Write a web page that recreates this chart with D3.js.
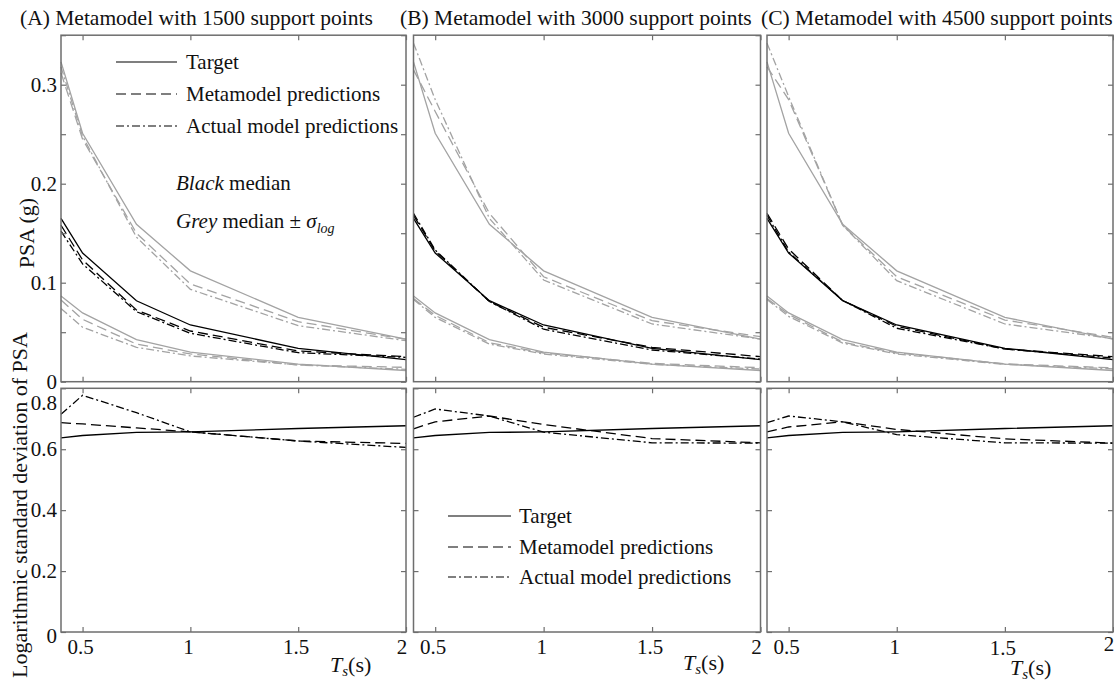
<!DOCTYPE html>
<html lang="en">
<head>
<meta charset="UTF-8">
<title>Metamodel predictions</title>
<script src="https://cdn.jsdelivr.net/npm/d3@7"></script>
<style>
  body { margin: 0; background: #fff; }
  text { font-family: "Liberation Serif", "Times New Roman", serif; fill: #111; }
  .frame { fill: none; stroke: #6e6e6e; stroke-width: 1.5; }
  .tick line { stroke: #6e6e6e; stroke-width: 1.2; }
  .domain { display: none; }
</style>
</head>
<body>
<script>
// periods (s)
var periods = [0.4, 0.5, 0.75, 1.0, 1.5, 2.0];

var titles = ["(A) Metamodel with 1500 support points",
              "(B) Metamodel with 3000 support points",
              "(C) Metamodel with 4500 support points"];

// target (same in every panel)
var targetMedian = [0.165, 0.130, 0.0818, 0.0573, 0.0337, 0.0222];
var targetUpper  = [0.323, 0.251, 0.159, 0.112, 0.065, 0.043];
var targetLower  = [0.0866, 0.0695, 0.0425, 0.0298, 0.0178, 0.0113];
var targetSigma  = [0.637, 0.645, 0.655, 0.657, 0.668, 0.677];

// (A) 1500 support points
var metaMedianA = [0.158, 0.123, 0.0724, 0.0512, 0.031, 0.0253];
var metaUpperA  = [0.312, 0.245, 0.150, 0.0987, 0.0606, 0.0428];
var metaLowerA  = [0.0825, 0.063, 0.038, 0.028, 0.0169, 0.0145];
var metaSigmaA  = [0.687, 0.683, 0.670, 0.657, 0.627, 0.619];
var actMedianA  = [0.152, 0.119, 0.0707, 0.0489, 0.0293, 0.0246];
var actUpperA   = [0.318, 0.248, 0.146, 0.0933, 0.0566, 0.0414];
var actLowerA   = [0.074, 0.055, 0.0347, 0.026, 0.0169, 0.0125];
var actSigmaA   = [0.715, 0.777, 0.720, 0.657, 0.627, 0.606];

// (B) 3000 support points
var metaMedianB = [0.168, 0.132, 0.081, 0.055, 0.0347, 0.0253];
var metaUpperB  = [0.315, 0.273, 0.170, 0.106, 0.0616, 0.0455];
var metaLowerB  = [0.084, 0.067, 0.0394, 0.029, 0.0185, 0.0141];
var metaSigmaB  = [0.667, 0.690, 0.709, 0.681, 0.635, 0.621];
var actMedianB  = [0.170, 0.133, 0.081, 0.053, 0.032, 0.0229];
var actUpperB   = [0.342, 0.285, 0.165, 0.1027, 0.0583, 0.0431];
var actLowerB   = [0.083, 0.065, 0.038, 0.028, 0.0175, 0.0128];
var actSigmaB   = [0.705, 0.732, 0.709, 0.656, 0.621, 0.620];

// (C) 4500 support points
var metaMedianC = [0.170, 0.134, 0.082, 0.056, 0.033, 0.0253];
var metaUpperC  = [0.318, 0.285, 0.158, 0.106, 0.0623, 0.0448];
var metaLowerC  = [0.084, 0.068, 0.040, 0.029, 0.018, 0.014];
var metaSigmaC  = [0.657, 0.673, 0.690, 0.665, 0.634, 0.620];
var actMedianC  = [0.168, 0.131, 0.082, 0.054, 0.033, 0.024];
var actUpperC   = [0.342, 0.288, 0.158, 0.102, 0.0583, 0.0435];
var actLowerC   = [0.083, 0.066, 0.039, 0.028, 0.0175, 0.013];
var actSigmaC   = [0.687, 0.709, 0.690, 0.648, 0.621, 0.620];

var xTicks = [0.5, 1, 1.5, 2];
var psaTicks = [0, 0.05, 0.1, 0.15, 0.2, 0.25, 0.3, 0.35];
var psaLabels = [0, 0.1, 0.2, 0.3];
var sigTicks = [0, 0.2, 0.4, 0.6, 0.8];

var legendNames = ["Target", "Metamodel predictions", "Actual model predictions"];

var panels = [
  { meta: [metaMedianA, metaUpperA, metaLowerA, metaSigmaA], act: [actMedianA, actUpperA, actLowerA, actSigmaA] },
  { meta: [metaMedianB, metaUpperB, metaLowerB, metaSigmaB], act: [actMedianB, actUpperB, actLowerB, actSigmaB] },
  { meta: [metaMedianC, metaUpperC, metaLowerC, metaSigmaC], act: [actMedianC, actUpperC, actLowerC, actSigmaC] }
];

var W = 1114, H = 681;
var xPos = [[61, 406], [413.5, 760.5], [767, 1113]];
var topY = [35.2, 381.7], botY = [388.3, 632];
var dashes = ["none", "10,5", "8,3,2,3"];
var grey = "#a3a3a3";

var svg = d3.select("body").append("svg").attr("width", W).attr("height", H);

var yTop = d3.scaleLinear().domain([0, 0.35]).range([topY[1], topY[0]]);
var yBot = d3.scaleLinear().domain([0, 0.8]).range([botY[1], botY[0]]);

var titleX = [20, 400, 761];

panels.forEach(function(p, i) {
  var x = d3.scaleLinear().domain([0.4, 2]).range(xPos[i]);
  var g = svg.append("g");

  g.append("text").attr("x", titleX[i]).attr("y", 25)
    .style("font-size", "21.5px").text(titles[i]);

  var lineTop = d3.line().x(function(d, k) { return x(periods[k]); }).y(function(d) { return yTop(d); });
  var lineBot = d3.line().x(function(d, k) { return x(periods[k]); }).y(function(d) { return yBot(d); });

  var sets = [
    [targetMedian, targetUpper, targetLower, targetSigma],
    p.meta, p.act
  ];
  // grey median +- sigma first
  sets.forEach(function(s, j) {
    [s[1], s[2]].forEach(function(arr) {
      g.append("path").attr("d", lineTop(arr))
        .attr("fill", "none").attr("stroke", grey).attr("stroke-width", 1.3)
        .attr("stroke-dasharray", dashes[j]);
    });
  });
  sets.forEach(function(s, j) {
    g.append("path").attr("d", lineTop(s[0]))
      .attr("fill", "none").attr("stroke", "#000").attr("stroke-width", 1.3)
      .attr("stroke-dasharray", dashes[j]);
    g.append("path").attr("d", lineBot(s[3]))
      .attr("fill", "none").attr("stroke", "#000").attr("stroke-width", 1.3)
      .attr("stroke-dasharray", dashes[j]);
  });

  // inward ticks on all sides
  [[topY, yTop, psaTicks], [botY, yBot, sigTicks]].forEach(function(row, r) {
    var yr = row[0], ys = row[1], tv = row[2];
    g.append("g").attr("transform", "translate(0," + yr[1] + ")")
      .call(d3.axisBottom(x).tickValues(xTicks).tickSize(-5).tickSizeOuter(0).tickFormat(""));
    g.append("g").attr("transform", "translate(0," + yr[0] + ")")
      .call(d3.axisTop(x).tickValues(xTicks).tickSize(-5).tickSizeOuter(0).tickFormat(""));
    if (i === 0 || r === 1) {
      g.append("g").attr("transform", "translate(" + xPos[i][0] + ",0)")
        .call(d3.axisLeft(ys).tickValues(tv).tickSize(-5).tickSizeOuter(0).tickFormat(""));
    }
    g.append("g").attr("transform", "translate(" + xPos[i][1] + ",0)")
      .call(d3.axisRight(ys).tickValues(tv).tickSize(-5).tickSizeOuter(0).tickFormat(""));
    g.append("rect").attr("class", "frame")
      .attr("x", xPos[i][0]).attr("y", yr[0])
      .attr("width", xPos[i][1] - xPos[i][0]).attr("height", yr[1] - yr[0]);
  });

  // x tick labels
  g.selectAll(".xl").data(xTicks).enter().append("text")
    .attr("x", function(d) { return x(d) - (d === 2 ? 4 : 2); })
    .attr("y", function(d) {
      if (i === 2 && d === 1.5) return 655;
      if (i === 2 && d === 2) return 651;
      return 654;
    })
    .attr("text-anchor", "middle").style("font-size", "21px")
    .text(function(d) { return d; });

  // axis title Ts(s)
  var tx = [330, 683, 1010][i], ty = [672, 670, 675][i];
  var t = g.append("text").attr("x", tx).attr("y", ty).style("font-size", "22px");
  t.append("tspan").style("font-style", "italic").text("T");
  t.append("tspan").style("font-style", "italic").style("font-size", "15px").attr("dy", 4).text("s");
  t.append("tspan").attr("dy", -4).text("(s)");
});

// y tick labels (panel A only)
svg.selectAll(".yl1").data(psaLabels).enter().append("text")
  .attr("x", 57).attr("y", function(d) { return yTop(d) + 7; })
  .attr("text-anchor", "end").style("font-size", "21px").text(function(d) { return d; });
svg.selectAll(".yl2").data(sigTicks).enter().append("text")
  .attr("x", 57).attr("y", function(d) {
    if (d === 0.8) return yBot(d) + 22;
    if (d === 0) return yBot(d) + 11;
    return yBot(d) + 7;
  })
  .attr("text-anchor", "end").style("font-size", "21px").text(function(d) { return d; });

// y axis titles
svg.append("text").attr("transform", "translate(34,233) rotate(-90)")
  .attr("text-anchor", "middle").style("font-size", "22px").text("PSA (g)");
svg.append("text").attr("transform", "translate(27,505) rotate(-90)")
  .attr("text-anchor", "middle").style("font-size", "22px").text("Logarithmic standard deviation of PSA");

// legends
function legend(x0, x1, tx, ys) {
  legendNames.forEach(function(name, k) {
    svg.append("line").attr("x1", x0).attr("x2", x1).attr("y1", ys[k]).attr("y2", ys[k])
      .attr("stroke", "#000").attr("stroke-width", 1.2).attr("stroke-dasharray", dashes[k]);
    svg.append("text").attr("x", tx).attr("y", ys[k] + 7).style("font-size", "21px").text(name);
  });
}
legend(116, 177, 186, [62, 94, 126]);
legend(448, 511, 519, [516, 547, 577]);

// annotation
var a1 = svg.append("text").attr("x", 176).attr("y", 190).style("font-size", "21px");
a1.append("tspan").style("font-style", "italic").text("Black");
a1.append("tspan").text(" median");
var a2 = svg.append("text").attr("x", 176).attr("y", 228).style("font-size", "21px");
a2.append("tspan").style("font-style", "italic").text("Grey");
a2.append("tspan").text(" median \u00b1 ");
a2.append("tspan").style("font-style", "italic").text("\u03c3");
a2.append("tspan").style("font-style", "italic").style("font-size", "14px").attr("dy", 5).text("log");
</script>
</body>
</html>
